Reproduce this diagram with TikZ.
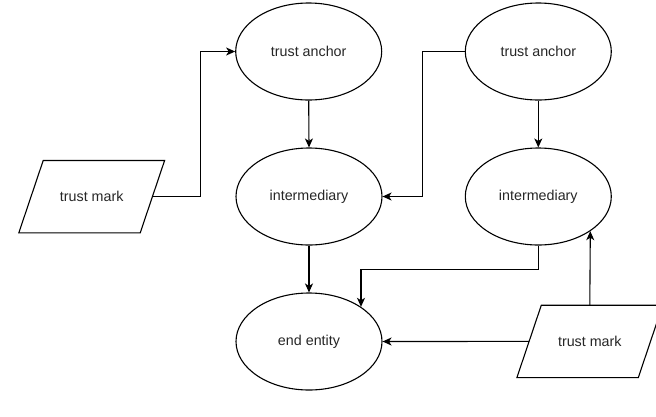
\documentclass[tikz,border=0pt]{standalone}
\usepackage{fontspec}
\setmainfont{Liberation Sans}
\usetikzlibrary{shapes.geometric,arrows.meta}

\begin{document}
\begin{tikzpicture}[x=1pt,y=-1pt,
  every node/.style={font=\fontsize{14.3}{16}\selectfont, text=black!85},
  entity/.style={ellipse, draw, line width=1.1pt, minimum width=146pt, minimum height=97pt, inner sep=0pt},
  markbox/.style={rectangle, minimum width=121pt, minimum height=72pt, inner sep=0pt},
  link/.style={line width=1.1pt, -{Stealth[length=9pt,width=8pt,inset=2.5pt]}}
]
  \clip (0,0) rectangle (656,416);

  % entities
  \node[entity] (ta1) at (308.7,51.5) {trust anchor};
  \node[entity] (im1) at (309,196.5) {intermediary};
  \node[entity] (ee)  at (309,341.5) {end entity};
  \node[entity] (ta2) at (538.3,51.5) {trust anchor};
  \node[entity] (im2) at (538.3,196.5) {intermediary};

  % trust marks (parallelograms drawn around text nodes)
  \node[markbox] (tm1) at (91.7,196.7) {trust mark};
  \node[markbox] (tm2) at (589.8,341.4) {trust mark};
  \foreach \m in {tm1,tm2}{
    \draw[line width=1.1pt] ([xshift=-12.2pt]\m.south west) -- ([xshift=-12.2pt]\m.south east)
      -- ([xshift=12.2pt]\m.north east) -- ([xshift=12.2pt]\m.north west) -- cycle;
  }

  % connectors
  \draw[link] (tm1.east) -- ++(48.5,0) |- (ta1.west);
  \draw[link] (ta1.south) -- (im1.north);
  \draw[link] (im1.south) -- (ee.north);
  \draw[link] (ta2.west) -- ++(-42.3,0) |- (im1.east);
  \draw[link] (ta2.south) -- (im2.north);
  \draw[link] (im2.south) -- ++(0,24) -| (ee.north east);
  \draw[link] (tm2.north) -- (im2.south east);
  \draw[link] (tm2.west) -- (ee.east);
\end{tikzpicture}
\end{document}
